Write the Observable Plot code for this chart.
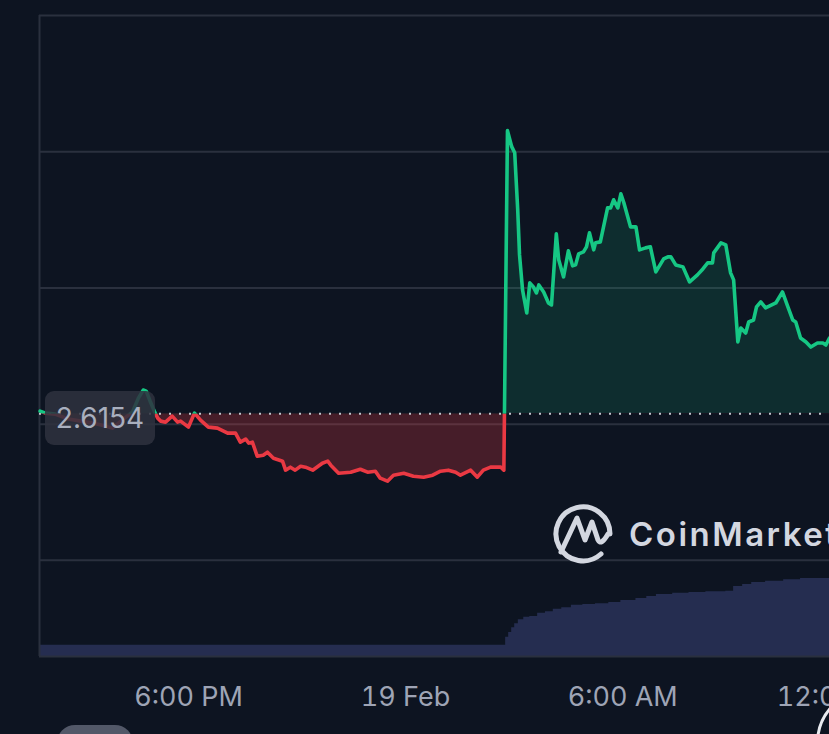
<!DOCTYPE html>
<html>
<head>
<meta charset="utf-8">
<script src="https://cdn.jsdelivr.net/npm/d3@7"></script>
<script src="https://cdn.jsdelivr.net/npm/@observablehq/plot@0.6"></script>
<style>
  html, body { margin: 0; padding: 0; background: #0d1421; overflow: hidden; }
  #wrap { position: relative; width: 829px; height: 734px; overflow: hidden; }
  #wrap > .layer { position: absolute; left: 0; top: 0; }
  .badge {
    position: absolute; left: 45px; top: 391px; width: 110px; height: 54px;
    background: rgba(46, 50, 63, 0.86); border-radius: 9px;
    color: #a9afbe; font: 28px Inter, "Noto Sans", sans-serif;
    display: flex; align-items: center; justify-content: center;
  }
  .wm { position: absolute; left: 552px; top: 503px; display: flex; align-items: center; }
  .wm span { color: #d3d7e0; font: 600 33px Inter, "Noto Sans", sans-serif; letter-spacing: 2.5px; margin-left: 15px; white-space: nowrap; }
  .pill { position: absolute; left: 57px; top: 725px; width: 76px; height: 40px; border-radius: 18px; background: #525868; }
  .ring { position: absolute; left: 816px; top: 688px; width: 110px; height: 110px; border-radius: 50%; border: 3px solid #e8eaef; box-sizing: border-box; }
</style>
</head>
<body>
<div id="wrap"></div>
<script>
// ---- data ----
const baseline = 2.6154;
const gridTicks = [2.4, 2.6, 2.8, 3.0, 3.2];
const yDomain = [2.2588, 3.2];
const xDomain = ["2024-02-18T13:53", "2024-02-19T11:43"];

const times = [
  "2024-02-18T13:54","2024-02-18T14:03","2024-02-18T14:19","2024-02-18T14:41","2024-02-18T15:01",
  "2024-02-18T15:21","2024-02-18T15:37","2024-02-18T15:54","2024-02-18T16:10","2024-02-18T16:27",
  "2024-02-18T16:37","2024-02-18T16:45","2024-02-18T16:50","2024-02-18T16:57","2024-02-18T17:04",
  "2024-02-18T17:09","2024-02-18T17:14","2024-02-18T17:22","2024-02-18T17:33","2024-02-18T17:42",
  "2024-02-18T17:47","2024-02-18T18:00","2024-02-18T18:10","2024-02-18T18:20","2024-02-18T18:33",
  "2024-02-18T18:48","2024-02-18T19:05","2024-02-18T19:18","2024-02-18T19:26","2024-02-18T19:35",
  "2024-02-18T19:40","2024-02-18T19:46","2024-02-18T19:54","2024-02-18T20:04","2024-02-18T20:11",
  "2024-02-18T20:21","2024-02-18T20:36","2024-02-18T20:41","2024-02-18T20:49","2024-02-18T20:57",
  "2024-02-18T21:06","2024-02-18T21:14","2024-02-18T21:26","2024-02-18T21:42","2024-02-18T21:51",
  "2024-02-18T21:56","2024-02-18T22:09","2024-02-18T22:29","2024-02-18T22:45","2024-02-18T22:57",
  "2024-02-18T23:10","2024-02-18T23:18","2024-02-18T23:30","2024-02-18T23:40","2024-02-18T23:57",
  "2024-02-19T00:13","2024-02-19T00:30","2024-02-19T00:45","2024-02-19T00:58","2024-02-19T01:11",
  "2024-02-19T01:23","2024-02-19T01:31","2024-02-19T01:48","2024-02-19T01:59","2024-02-19T02:09",
  "2024-02-19T02:21","2024-02-19T02:38","2024-02-19T02:43","2024-02-19T02:49","2024-02-19T02:56",
  "2024-02-19T03:01","2024-02-19T03:06","2024-02-19T03:09","2024-02-19T03:14","2024-02-19T03:21",
  "2024-02-19T03:26","2024-02-19T03:32","2024-02-19T03:37","2024-02-19T03:41","2024-02-19T03:49",
  "2024-02-19T03:57","2024-02-19T04:02","2024-02-19T04:10","2024-02-19T04:14","2024-02-19T04:22",
  "2024-02-19T04:30","2024-02-19T04:37","2024-02-19T04:42","2024-02-19T04:47","2024-02-19T04:55",
  "2024-02-19T05:00","2024-02-19T05:05","2024-02-19T05:12","2024-02-19T05:15","2024-02-19T05:23",
  "2024-02-19T05:35","2024-02-19T05:40","2024-02-19T05:45","2024-02-19T05:52","2024-02-19T05:57",
  "2024-02-19T06:02","2024-02-19T06:13","2024-02-19T06:22","2024-02-19T06:28","2024-02-19T06:38",
  "2024-02-19T06:46","2024-02-19T06:55","2024-02-19T07:08","2024-02-19T07:15","2024-02-19T07:20",
  "2024-02-19T07:28","2024-02-19T07:40","2024-02-19T07:51","2024-02-19T08:04","2024-02-19T08:13",
  "2024-02-19T08:21","2024-02-19T08:29","2024-02-19T08:31","2024-02-19T08:43","2024-02-19T08:51",
  "2024-02-19T08:59","2024-02-19T09:04","2024-02-19T09:11","2024-02-19T09:16","2024-02-19T09:24",
  "2024-02-19T09:29","2024-02-19T09:37","2024-02-19T09:42","2024-02-19T09:49","2024-02-19T09:57",
  "2024-02-19T10:14","2024-02-19T10:25","2024-02-19T10:34","2024-02-19T10:42","2024-02-19T10:47",
  "2024-02-19T10:55","2024-02-19T11:04","2024-02-19T11:12","2024-02-19T11:23","2024-02-19T11:32",
  "2024-02-19T11:37","2024-02-19T11:43"
];

const prices = [
  2.6191, 2.6162, 2.6147, 2.6074, 2.6044,
  2.6015, 2.5985, 2.5941, 2.6059, 2.6176,
  2.6382, 2.6500, 2.6485, 2.6324, 2.6176,
  2.6088, 2.6044, 2.6029, 2.6118, 2.6029,
  2.6044, 2.5956, 2.6162, 2.6059, 2.5956,
  2.5941, 2.5868, 2.5868, 2.5735, 2.5779,
  2.5721, 2.5735, 2.5529, 2.5544, 2.5588,
  2.5500, 2.5456, 2.5324, 2.5368, 2.5324,
  2.5382, 2.5368, 2.5324, 2.5426, 2.5456,
  2.5397, 2.5279, 2.5294, 2.5338, 2.5294,
  2.5309, 2.5206, 2.5162, 2.5250, 2.5279,
  2.5235, 2.5221, 2.5250, 2.5309, 2.5324,
  2.5294, 2.5250, 2.5324, 2.5221, 2.5324,
  2.5368, 2.5368, 2.5324, 3.0309, 3.0074,
  2.9985, 2.9147, 2.8485, 2.7971, 2.7632,
  2.8074, 2.8015, 2.7926, 2.8044, 2.7941,
  2.7779, 2.7750, 2.8794, 2.8412, 2.8162,
  2.8544, 2.8324, 2.8338, 2.8500, 2.8529,
  2.8603, 2.8809, 2.8559, 2.8662, 2.8676,
  2.9176, 2.9176, 2.9294, 2.9176, 2.9382,
  2.9250, 2.8897, 2.8897, 2.8559, 2.8588,
  2.8603, 2.8235, 2.8426, 2.8456, 2.8456,
  2.8338, 2.8309, 2.8088, 2.8191, 2.8279,
  2.8368, 2.8368, 2.8515, 2.8662, 2.8632,
  2.8221, 2.8118, 2.7206, 2.7412, 2.7338,
  2.7500, 2.7529, 2.7721, 2.7794, 2.7706,
  2.7779, 2.7941, 2.7721, 2.7529, 2.7500,
  2.7265, 2.7206, 2.7132, 2.7191, 2.7191,
  2.7162, 2.7265
];

const volTimes = [
  "2024-02-18T13:53","2024-02-19T02:43","2024-02-19T02:46","2024-02-19T02:51","2024-02-19T02:56",
  "2024-02-19T03:01","2024-02-19T03:07","2024-02-19T03:16","2024-02-19T03:26","2024-02-19T03:39",
  "2024-02-19T03:52","2024-02-19T04:05","2024-02-19T04:19","2024-02-19T04:35","2024-02-19T04:54",
  "2024-02-19T05:15","2024-02-19T05:37","2024-02-19T05:57","2024-02-19T06:22","2024-02-19T06:40",
  "2024-02-19T06:56","2024-02-19T07:23","2024-02-19T07:50","2024-02-19T08:18","2024-02-19T08:51",
  "2024-02-19T09:04","2024-02-19T09:19","2024-02-19T09:34","2024-02-19T09:57","2024-02-19T10:27",
  "2024-02-19T10:55","2024-02-19T11:43"
];
// volume in millions
const volumes = [
  1.4, 1.4, 2.4, 3.0, 3.6,
  4.1, 4.6, 4.9, 5.0, 5.4,
  5.6, 5.9, 6.1, 6.4, 6.5,
  6.6, 6.75, 7.0, 7.25, 7.5,
  7.75, 7.9, 8.0, 8.1, 8.15,
  8.75, 9.0, 9.25, 9.4, 9.6,
  9.75, 9.75
];
const volDomain = [0, 12];

// ---- build ----
const parse = s => new Date(s);
const data = times.map((t, i) => ({t: parse(t), p: prices[i]}));
const vol = volTimes.map((t, i) => ({t: parse(t), v: volumes[i]}));
const xd = xDomain.map(parse);

const GREEN = "#16c784", RED = "#ea3943", GRID = "#2a303e";
const W = 829, H = 734;
const fmtDay = d3.timeFormat("%-d %b"), fmtHour = d3.timeFormat("%-I:%M %p");
const xTicks = d3.timeHour.every(6).range(xd[0], new Date(+xd[1] + 6 * 3600e3));

const volPlot = Plot.plot({
  width: W, height: H,
  marginLeft: 39, marginRight: 0, marginTop: 560, marginBottom: 78,
  style: {background: "transparent"},
  x: {type: "time", domain: xd, axis: null},
  y: {domain: volDomain, axis: null},
  marks: [
    Plot.areaY(vol, {x: "t", y: "v", curve: "step-after", fill: "#252d50"})
  ]
});

const mainPlot = Plot.plot({
  width: W, height: H,
  marginLeft: 39, marginRight: 0, marginTop: 15, marginBottom: 78,
  style: {background: "transparent", color: "#9ea4b5", fontFamily: "Inter, 'Noto Sans', sans-serif", fontSize: "27px"},
  x: {type: "time", domain: xd, ticks: xTicks, tickSize: 0, tickPadding: 30, label: null,
      tickFormat: d => d.getHours() === 0 ? fmtDay(d) : fmtHour(d)},
  y: {domain: yDomain, axis: null},
  marks: [
    Plot.ruleY(gridTicks, {stroke: GRID, strokeWidth: 2}),
    Plot.ruleY([yDomain[0]], {stroke: GRID, strokeWidth: 2}),
    Plot.ruleX([xd[0]], {stroke: GRID, strokeWidth: 2}),
    // areas: [0] up (green), [1] down (red)
    Plot.areaY(data, {x: "t", y1: () => baseline, y2: "p", fill: GREEN, fillOpacity: 0.14}),
    Plot.areaY(data, {x: "t", y1: () => baseline, y2: "p", fill: RED, fillOpacity: 0.26}),
    Plot.ruleY([baseline], {stroke: "#c3c7cf", strokeWidth: 2, strokeDasharray: "2,8"}),
    // lines: [0] up (green), [1] down (red)
    Plot.line(data, {x: "t", y: "p", stroke: GREEN, strokeWidth: 3.6, strokeLinejoin: "round", strokeLinecap: "round"}),
    Plot.line(data, {x: "t", y: "p", stroke: RED, strokeWidth: 3.6, strokeLinejoin: "round", strokeLinecap: "round"})
  ]
});

// clip the up/down marks at the baseline using the plot's own y scale
const ys = mainPlot.scale("y");
const yb = d3.scaleLinear(ys.domain, ys.range)(baseline);
const ns = "http://www.w3.org/2000/svg";
const defs = document.createElementNS(ns, "defs");
function clip(id, y, h) {
  const cp = document.createElementNS(ns, "clipPath");
  cp.setAttribute("id", id);
  cp.setAttribute("clipPathUnits", "userSpaceOnUse");
  const r = document.createElementNS(ns, "rect");
  r.setAttribute("x", -10); r.setAttribute("y", y);
  r.setAttribute("width", W + 20); r.setAttribute("height", h);
  cp.appendChild(r); defs.appendChild(cp);
}
clip("clip-up", -10, yb + 10);
clip("clip-down", yb, H - yb + 10);
mainPlot.insertBefore(defs, mainPlot.firstChild);
const areas = mainPlot.querySelectorAll('g[aria-label="area"]');
const lines = mainPlot.querySelectorAll('g[aria-label="line"]');
areas[0].setAttribute("clip-path", "url(#clip-up)");
areas[1].setAttribute("clip-path", "url(#clip-down)");
lines[0].setAttribute("clip-path", "url(#clip-up)");
lines[1].setAttribute("clip-path", "url(#clip-down)");

const wrap = document.getElementById("wrap");
volPlot.classList.add("layer");
mainPlot.classList.add("layer");
wrap.appendChild(volPlot);
wrap.appendChild(mainPlot);

// price badge
const badge = document.createElement("div");
badge.className = "badge";
badge.textContent = baseline.toFixed(4);
wrap.appendChild(badge);

// watermark
const wm = document.createElement("div");
wm.className = "wm";
wm.innerHTML = `<svg width="62" height="62" viewBox="0 0 62 62">
  <path d="M58,31 A27,27 0 1 0 49,51" fill="none" stroke="#d3d7e0" stroke-width="5" stroke-linecap="round"/>
  <path d="M9,49 L25,15 L33,37 L40,19 L46,37 Q49,43 56,31" fill="none" stroke="#d3d7e0" stroke-width="5" stroke-linecap="round" stroke-linejoin="round"/>
</svg><span>CoinMarketCap</span>`;
wrap.appendChild(wm);

// UI bits at bottom edge
const pill = document.createElement("div"); pill.className = "pill"; wrap.appendChild(pill);
const ring = document.createElement("div"); ring.className = "ring"; wrap.appendChild(ring);
</script>
</body>
</html>
